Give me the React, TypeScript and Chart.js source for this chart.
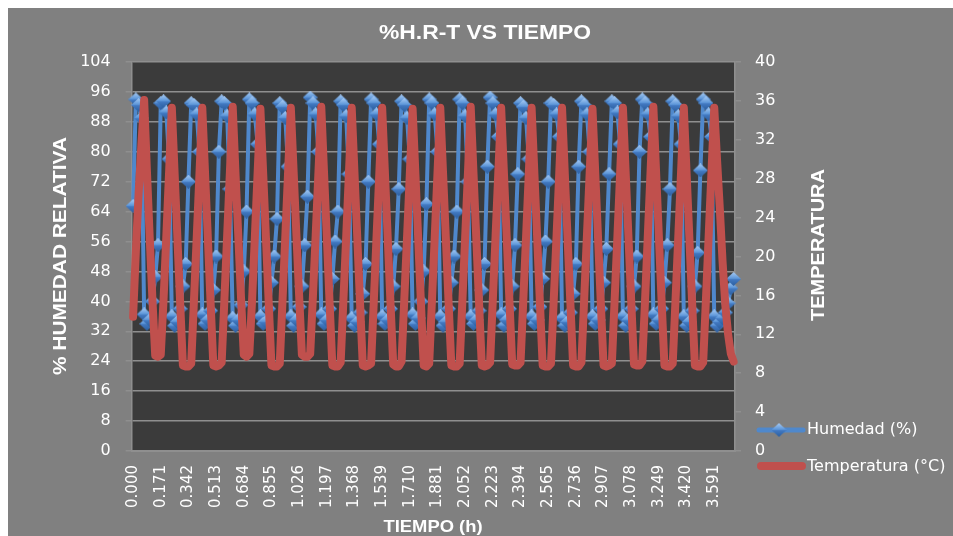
import React, { useEffect, useRef } from 'react';
import { Chart, registerables } from 'chart.js';

Chart.register(...registerables);

// ---- data ----
const chartTitle = '%H.R-T VS TIEMPO';
const xAxisTitle = 'TIEMPO (h)';
const leftAxisTitle = '% HUMEDAD RELATIVA';
const rightAxisTitle = 'TEMPERATURA';
const humidityLabel = 'Humedad (%)';
const temperatureLabel = 'Temperatura (°C)';

// tick labels shown on the time axis (one every 10 samples)
const xTickLabels = [
  '0.000', '0.171', '0.342', '0.513', '0.684', '0.855', '1.026', '1.197', '1.368', '1.539', '1.710',
  '1.881', '2.052', '2.223', '2.394', '2.565', '2.736', '2.907', '3.078', '3.249', '3.420', '3.591',
];
const samplesPerTick = 10;

const humidityMin = 0;
const humidityMax = 104;
const humidityStep = 8;
const temperatureMin = 0;
const temperatureMax = 40;
const temperatureStep = 4;

// Humedad (%) samples
const humidity = [
  65.5, 94.0, 92.5, 89.0, 36.5,
  34.0, 35.0, 40.0, 46.5, 55.0, 93.0, 93.5, 90.5, 78.0, 36.0,
  33.5, 34.5, 38.0, 44.0, 50.0, 72.0, 93.0, 92.5, 90.0, 80.0, 36.5,
  34.0, 35.0, 37.5, 43.0, 52.0, 80.0, 93.5, 93.0, 89.5, 70.0, 35.5,
  33.5, 35.0, 39.0, 48.0, 64.0, 94.0, 93.0, 90.0, 82.0, 36.0,
  34.0, 34.5, 38.0, 45.0, 52.0, 62.0, 93.0, 92.0, 89.0, 76.0, 36.0,
  33.5, 35.0, 38.5, 44.0, 55.0, 68.0, 94.5, 93.0, 90.0, 80.0, 36.5,
  34.0, 35.0, 38.0, 46.0, 56.0, 64.0, 93.5, 92.5, 89.5, 74.0, 35.5,
  33.5, 34.5, 37.0, 42.0, 50.0, 72.0, 94.0, 93.0, 90.0, 82.0, 36.0,
  34.0, 35.0, 38.0, 44.0, 54.0, 70.0, 93.5, 92.5, 89.0, 78.0, 36.5,
  34.0, 35.5, 40.0, 48.0, 66.0, 94.0, 93.0, 90.0, 80.0, 36.0,
  33.5, 34.5, 38.0, 45.0, 52.0, 64.0, 94.0, 93.0, 89.5, 72.0, 36.0,
  34.0, 35.0, 37.5, 43.0, 50.0, 76.0, 94.5, 93.0, 90.0, 84.0, 36.5,
  33.5, 35.0, 38.0, 44.0, 55.0, 74.0, 93.0, 92.0, 89.0, 78.0, 36.0,
  34.0, 35.0, 38.5, 46.0, 56.0, 72.0, 93.0, 92.5, 90.0, 84.0, 35.5,
  33.5, 34.5, 37.0, 42.0, 50.0, 76.0, 93.5, 92.5, 90.0, 80.0, 36.0,
  34.0, 35.0, 38.0, 45.0, 54.0, 74.0, 93.5, 93.0, 90.5, 82.0, 36.0,
  33.5, 35.0, 38.0, 44.0, 52.0, 80.0, 94.0, 93.0, 90.0, 84.0, 36.5,
  34.0, 35.0, 38.0, 45.0, 55.0, 70.0, 93.5, 92.5, 89.5, 82.0, 36.0,
  33.5, 34.5, 37.5, 44.0, 53.0, 75.0, 94.0, 93.0, 90.0, 84.0, 36.0,
  33.5, 34.5, 35.5, 37.0, 39.5, 43.5, 46.0,
];

// Temperatura (°C) samples
const temperature = [
  13.8, 20.5, 26.5, 31.5, 36.1,
  28.8, 22.0, 15.5, 9.8, 9.7, 9.9, 15.5, 22.0, 28.6, 35.3,
  28.6, 22.0, 15.3, 8.8, 8.7, 8.7, 9.0, 15.5, 22.0, 28.6, 35.3,
  28.6, 22.0, 15.3, 8.8, 8.7, 8.8, 9.1, 15.6, 22.2, 28.8, 35.4,
  28.6, 22.2, 15.8, 9.9, 9.7, 10.0, 15.5, 22.0, 28.6, 35.2,
  28.6, 22.0, 15.3, 8.8, 8.7, 8.7, 9.0, 15.5, 22.0, 28.6, 35.3,
  28.8, 22.3, 16.0, 9.9, 9.7, 9.7, 10.0, 16.0, 22.3, 28.8, 35.4,
  28.6, 22.0, 15.3, 8.8, 8.7, 8.7, 9.1, 15.5, 22.0, 28.6, 35.3,
  28.6, 22.0, 15.3, 8.8, 8.7, 8.8, 9.0, 15.5, 22.2, 28.7, 35.3,
  28.6, 22.0, 15.3, 8.9, 8.7, 8.7, 9.2, 15.6, 22.0, 28.5, 35.2,
  28.6, 22.0, 15.3, 8.8, 8.7, 9.0, 15.5, 22.0, 28.6, 35.3,
  28.6, 22.0, 15.3, 8.8, 8.7, 8.7, 9.0, 15.5, 22.0, 28.6, 35.4,
  28.6, 22.0, 15.3, 8.8, 8.7, 8.8, 9.1, 15.6, 22.2, 28.8, 35.3,
  28.6, 22.0, 15.4, 8.9, 8.8, 8.8, 9.1, 15.5, 22.0, 28.6, 35.3,
  28.6, 22.0, 15.3, 8.8, 8.7, 8.7, 9.0, 15.5, 22.0, 28.6, 35.3,
  28.5, 21.9, 15.3, 8.8, 8.7, 8.7, 9.1, 15.6, 22.2, 28.7, 35.2,
  28.6, 22.0, 15.3, 8.8, 8.7, 8.8, 9.0, 15.5, 22.0, 28.6, 35.3,
  28.6, 22.0, 15.4, 8.9, 8.8, 8.8, 9.2, 15.5, 22.2, 28.8, 35.4,
  28.6, 22.0, 15.3, 8.8, 8.7, 8.7, 9.0, 15.5, 22.0, 28.6, 35.3,
  28.6, 22.0, 15.3, 8.8, 8.7, 8.7, 9.1, 15.6, 22.2, 28.7, 35.3,
  30.0, 25.0, 19.5, 15.0, 12.0, 10.0, 9.2,
];

// ---- styles ----
const BG = '#808080';
const PLOT_BG = '#3b3b3b';
const GRID = '#8f8f8f';
const TEXT = '#ffffff';
const BLUE = '#4f88cc';
const RED = '#c0504d';
const TICK_FONT = { family: 'DejaVu Sans', size: 16 };

function makeDiamond(): HTMLCanvasElement {
  const c = document.createElement('canvas');
  c.width = 15;
  c.height = 14;
  const g = c.getContext('2d')!;
  g.beginPath();
  g.moveTo(7.5, 0);
  g.lineTo(15, 7);
  g.lineTo(7.5, 14);
  g.lineTo(0, 7);
  g.closePath();
  const grad = g.createLinearGradient(0, 0, 0, 14);
  grad.addColorStop(0, '#a8cbf3');
  grad.addColorStop(0.45, '#5f98da');
  grad.addColorStop(0.55, '#4178c0');
  grad.addColorStop(1, '#2c5e9e');
  g.fillStyle = grad;
  g.fill();
  return c;
}

function fitText(ctx: CanvasRenderingContext2D, text: string, x: number, y: number, width: number, font: string, rot = 0) {
  ctx.save();
  ctx.font = font;
  ctx.fillStyle = TEXT;
  ctx.textAlign = 'center';
  ctx.textBaseline = 'middle';
  const w = ctx.measureText(text).width;
  ctx.translate(x, y);
  ctx.rotate(rot);
  ctx.scale(width / w, 1);
  ctx.fillText(text, 0, 0);
  ctx.restore();
}

export default function App() {
  const ref = useRef<HTMLCanvasElement | null>(null);

  useEffect(() => {
    const canvas = ref.current;
    if (!canvas) return;
    const diamond = makeDiamond();

    const decor = {
      id: 'decor',
      beforeDraw(chart: any) {
        const { ctx, chartArea: a } = chart;
        ctx.save();
        ctx.fillStyle = PLOT_BG;
        ctx.fillRect(a.left, a.top, a.right - a.left, a.bottom - a.top);
        ctx.restore();
      },
      afterDraw(chart: any) {
        const { ctx } = chart;
        fitText(ctx, chartTitle, 477, 25, 212, 'bold 20px "Liberation Sans"');
        fitText(ctx, leftAxisTitle, 53, 248, 238, 'bold 18px "Liberation Sans"', -Math.PI / 2);
        fitText(ctx, rightAxisTitle, 811, 237, 152, 'bold 19px "Liberation Sans"', -Math.PI / 2);
        fitText(ctx, xAxisTitle, 425, 519, 99, 'bold 17px "Liberation Sans"');

        const ds = chart.data.datasets;
        const hum = ds.find((d: any) => d.yAxisID === 'yH');
        const tem = ds.find((d: any) => d.yAxisID === 'yT');
        ctx.save();
        ctx.lineCap = 'round';
        // humidity legend
        ctx.strokeStyle = hum.borderColor;
        ctx.lineWidth = 5;
        ctx.beginPath();
        ctx.moveTo(751, 422);
        ctx.lineTo(795, 422);
        ctx.stroke();
        ctx.drawImage(diamond, 771 - diamond.width / 2, 422 - diamond.height / 2);
        // temperature legend
        ctx.strokeStyle = tem.borderColor;
        ctx.lineWidth = 8;
        ctx.beginPath();
        ctx.moveTo(753, 458);
        ctx.lineTo(794, 458);
        ctx.stroke();
        ctx.font = '16px "DejaVu Sans"';
        ctx.fillStyle = TEXT;
        ctx.textAlign = 'left';
        ctx.textBaseline = 'middle';
        ctx.fillText(hum.label, 799, 422);
        ctx.fillText(tem.label, 799, 459);
        ctx.restore();
      },
    };

    const chart = new Chart(canvas, {
      type: 'line',
      data: {
        labels: humidity.map((_, i) => i),
        datasets: [
          {
            label: temperatureLabel,
            data: temperature,
            yAxisID: 'yT',
            borderColor: RED,
            backgroundColor: RED,
            borderWidth: 8,
            pointRadius: 0,
            tension: 0,
            borderJoinStyle: 'round',
            borderCapStyle: 'round',
            clip: false,
            order: 0,
          },
          {
            label: humidityLabel,
            data: humidity,
            yAxisID: 'yH',
            borderColor: BLUE,
            backgroundColor: BLUE,
            borderWidth: 4,
            pointStyle: diamond,
            pointRadius: 7,
            tension: 0,
            borderJoinStyle: 'round',
            clip: false,
            order: 1,
          },
        ],
      } as any,
      options: {
        responsive: false,
        animation: false,
        devicePixelRatio: 1,
        layout: { padding: { top: 54, left: 0, right: 0, bottom: 0 } },
        plugins: {
          legend: { display: false },
          title: { display: false },
          tooltip: { enabled: false },
        },
        scales: {
          x: {
            type: 'category',
            offset: true,
            grid: { display: false, drawTicks: false },
            border: { display: true, color: GRID, width: 2 },
            ticks: {
              autoSkip: false,
              maxRotation: 90,
              minRotation: 90,
              padding: 14,
              color: TEXT,
              font: { family: 'DejaVu Sans', size: 15 },
              callback: (_v: any, i: number) =>
                i % samplesPerTick === 0 ? xTickLabels[i / samplesPerTick] : null,
            },
            afterFit: (s: any) => {
              s.height = 85;
            },
          },
          yH: {
            position: 'left',
            min: humidityMin,
            max: humidityMax,
            ticks: { stepSize: humidityStep, padding: 15, color: TEXT, font: TICK_FONT },
            grid: { color: GRID, lineWidth: 1.5, tickLength: 6, drawTicks: true },
            border: { display: true, color: GRID, width: 1.5 },
            afterFit: (s: any) => {
              s.width = 123.7;
            },
          },
          yT: {
            position: 'right',
            min: temperatureMin,
            max: temperatureMax,
            ticks: { stepSize: temperatureStep, padding: 14, color: TEXT, font: TICK_FONT },
            grid: { drawOnChartArea: false, color: GRID, lineWidth: 1.5, tickLength: 6, drawTicks: true },
            border: { display: true, color: GRID, width: 1.5 },
            afterFit: (s: any) => {
              s.width = 218;
            },
          },
        },
      } as any,
      plugins: [decor],
    });

    return () => chart.destroy();
  }, []);

  return (
    <div
      style={{
        position: 'fixed',
        left: 8,
        top: 8,
        width: 945,
        height: 528,
        background: BG,
      }}
    >
      <canvas ref={ref} width={945} height={528} style={{ display: 'block', width: 945, height: 528 }} />
    </div>
  );
}
